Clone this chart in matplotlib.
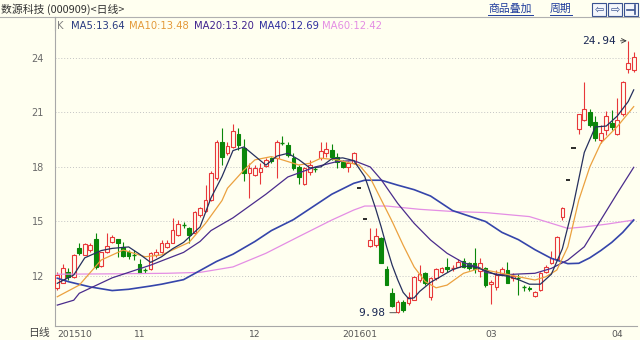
import matplotlib.pyplot as plt
from matplotlib.lines import Line2D
from matplotlib.patches import Rectangle

# daily candles, Oct 2015 - Apr 2016
opens = [11.32, 11.63, 12.24, 11.96, 13.52, 13.16, 13.43, 14.02, 12.55, 13.32,
         13.89, 14.02, 13.61, 13.32, 13.18, 12.66, 12.35, 12.37, 13.16, 13.34,
         13.61, 13.83, 14.26, 14.83, 14.62, 14.35, 15.36, 15.60, 16.18, 17.38,
         19.39, 18.75, 19.08, 19.82, 19.03, 17.65, 17.56, 17.74, 18.06, 18.48,
         18.48, 19.36, 19.21, 18.48, 17.98, 17.06, 17.74, 17.90, 18.48, 18.79,
         18.94, 18.57, 18.26, 18.02, 18.20, 16.83, 15.16, 13.65, 13.71, 14.07,
         12.37, 11.05, 10.00, 10.59, 10.50, 10.68, 11.78, 12.15, 10.86, 11.87,
         12.24, 12.51, 12.40, 12.51, 12.84, 12.70, 12.73, 12.29, 12.42, 11.55,
         11.41, 12.10, 12.35, 11.90, 11.90, 11.40, 11.35, 10.90, 11.23, 12.20,
         12.72, 12.95, 15.27, 17.30, 19.06, 20.10, 20.60, 21.05, 20.50, 19.49,
         20.04, 20.42, 19.80, 20.90, 23.38, 23.34]
highs = [12.24, 12.64, 12.42, 13.20, 13.80, 13.80, 13.83, 14.35, 13.34, 14.35,
         14.26, 14.05, 13.89, 13.43, 13.43, 12.92, 12.46, 13.34, 13.47, 13.98,
         13.98, 15.17, 15.08, 14.99, 14.72, 15.58, 15.82, 17.01, 17.78, 19.49,
         20.13, 19.39, 20.37, 20.13, 19.52, 18.20, 18.11, 18.20, 18.48, 18.57,
         19.49, 19.71, 19.39, 18.75, 18.11, 18.02, 18.39, 18.02, 19.39, 19.39,
         19.25, 18.75, 18.39, 18.33, 18.84, 16.83, 15.16, 14.62, 14.62, 14.17,
         12.55, 11.32, 10.68, 10.68, 11.14, 12.00, 12.61, 12.24, 11.93, 12.42,
         12.51, 12.97, 12.60, 12.92, 12.97, 12.79, 13.52, 12.97, 12.51, 11.80,
         12.35, 12.50, 12.79, 12.15, 12.10, 11.50, 11.45, 11.20, 12.20, 12.60,
         13.35, 14.20, 15.77, 17.30, 19.06, 20.92, 22.70, 21.20, 20.80, 20.30,
         21.10, 21.15, 21.80, 22.75, 24.94, 24.35]
lows = [11.23, 11.60, 11.78, 11.90, 13.16, 13.14, 13.34, 12.37, 12.51, 13.25,
        13.80, 13.06, 13.06, 12.92, 12.88, 12.15, 12.18, 12.33, 13.06, 13.28,
        13.52, 13.80, 14.20, 14.62, 13.80, 14.31, 15.27, 15.54, 16.14, 17.28,
        18.11, 18.66, 19.03, 18.94, 17.25, 16.28, 17.50, 17.06, 17.98, 18.20,
        17.38, 19.20, 18.57, 17.83, 17.06, 17.01, 17.56, 17.74, 18.39, 18.57,
        18.39, 17.93, 17.93, 17.74, 18.17, 16.83, 15.16, 13.60, 13.61, 12.70,
        11.50, 10.31, 9.98, 10.00, 10.40, 10.68, 11.69, 11.50, 10.68, 11.78,
        12.15, 12.24, 12.30, 12.48, 12.42, 12.33, 12.15, 11.93, 11.41, 10.45,
        11.25, 12.05, 11.60, 11.75, 10.95, 11.20, 11.15, 10.85, 11.20, 12.15,
        12.65, 12.92, 15.10, 17.30, 19.06, 19.80, 20.55, 20.20, 19.45, 19.30,
        19.75, 20.05, 19.75, 20.80, 23.16, 23.25]
closes = [12.06, 12.42, 11.96, 13.16, 13.25, 13.76, 13.71, 12.51, 13.32, 13.67,
          14.17, 13.80, 13.10, 13.10, 13.14, 12.18, 12.31, 13.28, 13.34, 13.83,
          13.83, 14.53, 14.84, 14.79, 14.26, 15.52, 15.72, 16.18, 17.65, 19.39,
          18.57, 19.16, 20.00, 19.21, 17.65, 17.93, 17.93, 17.93, 18.39, 18.35,
          19.39, 19.30, 18.66, 17.93, 17.47, 17.93, 18.11, 17.87, 18.90, 18.97,
          18.57, 18.29, 18.02, 18.24, 18.75, 16.83, 15.16, 13.98, 14.20, 12.73,
          11.50, 10.35, 10.59, 10.13, 10.86, 11.93, 12.11, 11.60, 11.87, 12.37,
          12.42, 12.37, 12.45, 12.79, 12.51, 12.42, 12.37, 12.73, 11.50, 11.65,
          12.05, 12.38, 11.63, 12.02, 11.85, 11.35, 11.28, 11.14, 12.15, 12.47,
          12.97, 14.15, 15.72, 17.30, 19.06, 20.90, 21.17, 20.31, 19.58, 19.89,
          20.83, 20.18, 20.60, 22.70, 23.74, 24.07]

# moving averages (candle index, value)
ma5_idx = [0, 3, 5, 8, 10, 13, 15, 17, 19, 21, 23, 26, 28, 30, 32, 34, 36, 38, 40, 42,
           44, 46, 48, 50, 52, 54, 56, 57, 58, 59, 60, 61, 62, 63, 64, 65, 66, 68, 70,
           72, 74, 76, 78, 80, 82, 84, 86, 88, 90, 92, 94, 96, 98, 100, 102, 104, 105]
ma5_val = [11.6, 12.06, 13.0, 13.4, 13.52, 13.6, 13.2, 12.75, 13.06, 13.5, 13.85, 14.7,
           16.3, 17.47, 18.9, 19.1, 18.6, 18.1, 18.6, 18.75, 18.4, 17.95, 18.0, 18.45,
           18.5, 18.35, 17.47, 16.6, 15.7, 14.7, 13.6, 12.6, 11.8, 11.1, 10.75, 10.8,
           11.15, 11.65, 12.0, 12.35, 12.55, 12.5, 12.3, 12.06, 12.0, 11.8, 11.55, 11.55,
           12.1, 13.5, 15.9, 18.8, 20.2, 20.25, 20.8, 21.6, 22.24]
ma10_idx = [0, 4, 8, 12, 16, 19, 24, 27, 30, 31, 34, 36, 39, 41, 44, 46, 48, 51, 55,
            57, 59, 61, 63, 65, 67, 69, 71, 74, 77, 78, 81, 84, 87, 89, 91, 93, 95,
            97, 99, 102, 105]
ma10_val = [10.86, 11.5, 12.88, 13.43, 13.06, 13.16, 13.85, 14.9, 16.15, 16.83, 17.83,
            18.39, 18.57, 18.39, 18.11, 18.2, 18.48, 18.39, 18.1, 17.4, 16.2, 15.0,
            13.7, 12.5, 11.7, 11.35, 11.5, 12.15, 12.42, 12.33, 12.15, 11.96, 11.78,
            11.96, 12.33, 13.61, 16.18, 18.0, 19.3, 20.22, 21.32]
ma20_idx = [0, 3, 4, 10, 17, 23, 26, 28, 32, 38, 42, 47, 51, 54, 57, 59, 62, 65, 68,
            71, 74, 77, 78, 81, 84, 87, 90, 93, 96, 99, 102, 105]
ma20_val = [10.4, 10.67, 11.05, 11.9, 12.6, 13.3, 13.9, 14.5, 15.2, 16.5, 17.45, 18.0,
            18.3, 18.35, 18.0, 17.3, 16.0, 14.9, 13.98, 13.25, 12.73, 12.45, 12.2,
            12.06, 12.11, 12.15, 12.42, 12.88, 13.61, 15.08, 16.55, 17.98]
ma40_idx = [0, 2, 6, 10, 13, 17, 19, 23, 26, 29, 32, 36, 39, 43, 46, 50, 54, 56, 59,
            62, 65, 68, 72, 75, 78, 81, 84, 87, 90, 93, 95, 97, 99, 101, 103, 105]
ma40_val = [11.88, 11.69, 11.4, 11.2, 11.27, 11.45, 11.55, 11.8, 12.3, 12.8, 13.2, 13.9,
            14.5, 15.1, 15.7, 16.5, 17.1, 17.27, 17.27, 17.0, 16.75, 16.4, 15.6, 15.3,
            15.0, 14.4, 14.0, 13.45, 12.97, 12.68, 12.7, 13.0, 13.4, 13.85, 14.4, 15.08]
ma60_idx = [0, 10, 20, 26, 32, 38, 44, 50, 54, 56, 60, 66, 72, 78, 86, 90, 93, 96, 100, 105]
ma60_val = [12.1, 12.12, 12.15, 12.2, 12.5, 13.25, 14.17, 15.08, 15.63, 15.85, 15.85,
            15.67, 15.55, 15.49, 15.27, 14.9, 14.62, 14.7, 14.85, 15.08]

month_pos = [0, 14, 35, 52, 78, 101]
month_labels = ['201510', '11', '12', '201601', '03', '04']
yticks = [12, 15, 18, 21, 24]

BG = '#fffff0'
RED = '#e8383a'
GREEN = '#0a870a'
C5, C10, C20, C40, C60 = '#26305e', '#eba13f', '#4a2c8c', '#3545aa', '#e48ee4'
CJK = ['Noto Sans CJK SC', 'DejaVu Sans']

fig = plt.figure(figsize=(6.4, 3.4), dpi=100, facecolor=BG)
ax = fig.add_axes([55/640, 14/340, 582/640, 309/340])
ax.set_facecolor(BG)
ax.set_xlim(-0.42, 105.6)
ax.set_ylim(9.25, 26.25)

for y in yticks:
    ax.axhline(y, color='#c4c4c4', lw=0.7, ls=(0, (1, 2)), zorder=0)

# candles
for i, (o, h, l, c) in enumerate(zip(opens, highs, lows, closes)):
    if h - l < 0.01:
        ax.hlines(c, i - 0.4, i + 0.4, color='#1a1a1a', lw=1.3, zorder=3)
        continue
    col = RED if c >= o else GREEN
    ax.vlines(i, l, h, color=col, lw=0.8, zorder=2)
    if abs(c - o) < 0.06:
        ax.hlines((o + c) / 2, i - 0.36, i + 0.36, color=col, lw=1.0, zorder=3)
    else:
        ax.bar(i, abs(c - o), bottom=min(o, c), width=0.66,
               facecolor=BG if c >= o else GREEN, edgecolor=col, lw=0.8, zorder=3)

ax.plot(ma60_idx, ma60_val, color=C60, lw=0.9, zorder=4)
ax.plot(ma40_idx, ma40_val, color=C40, lw=1.2, zorder=4)
ax.plot(ma20_idx, ma20_val, color=C20, lw=0.9, zorder=4)
ax.plot(ma10_idx, ma10_val, color=C10, lw=0.9, zorder=4)
ax.plot(ma5_idx, ma5_val, color=C5, lw=0.9, zorder=5)

# high / low marks
ax.annotate('24.94', xy=(104, max(highs)), xytext=(-12, 0), textcoords='offset pixels',
            ha='right', va='center', fontsize=8, family='DejaVu Sans Mono', color='#1c2a55',
            arrowprops=dict(arrowstyle='->', color='#333333', lw=0.6, shrinkA=1, shrinkB=1))
ax.annotate('9.98', xy=(62, min(lows)), xytext=(-12, 0), textcoords='offset pixels',
            ha='right', va='center', fontsize=8, family='DejaVu Sans Mono', color='#1c2a55',
            arrowprops=dict(arrowstyle='-', color='#333333', lw=0.6, shrinkA=1, shrinkB=1))

ax.set_yticks(yticks)
ax.set_yticklabels([str(v) for v in yticks])
ax.set_xticks(month_pos)
ax.set_xticklabels(month_labels, ha='left')
ax.tick_params(axis='y', length=0, pad=8, labelsize=7, labelcolor='#6a6a6a')
ax.tick_params(axis='x', length=0, pad=3, labelsize=6.6, labelcolor='#555555')
for s in ['top', 'right']:
    ax.spines[s].set_visible(False)
for s in ['left', 'bottom']:
    ax.spines[s].set_color('#a8a8a8')
    ax.spines[s].set_linewidth(0.8)

# header
fig.add_artist(Line2D([0, 1], [1 - 16.5/340] * 2, color='#b0b0b0', lw=0.8))
fig.add_artist(Line2D([55/640] * 2, [1 - 16.5/340, 1 - 30/340], color='#a8a8a8', lw=0.8))
fig.text(1/640, 1 - 9/340, '数源科技 (000909)<日线>', family=CJK, fontsize=7.8,
         color='#333333', va='center')
for txt, x0, x1 in [('商品叠加', 488, 533), ('周期', 550, 572)]:
    fig.text(x0/640, 1 - 8.5/340, txt, family=CJK, fontsize=7.8, color='#1f3c9c', va='center')
    fig.add_artist(Line2D([x0/640, x1/640], [1 - 15/340] * 2, color='#1f3c9c', lw=0.7))
for k, g in enumerate(['⇦', '⇨', '']):
    x0 = 592 + 16 * k
    fig.add_artist(Rectangle((x0/640, 1 - 16/340), 14/640, 13/340, transform=fig.transFigure,
                             facecolor='#f4f6fb', edgecolor='#3a5290', lw=0.8))
    if g:
        fig.text((x0 + 7)/640, 1 - 9.5/340, g, fontsize=8, color='#3a5290', ha='center', va='center')
    else:
        fig.add_artist(Line2D([(x0 + 3)/640, (x0 + 10)/640], [1 - 9.5/340] * 2, color='#3a5290', lw=1.2))
        fig.add_artist(Line2D([(x0 + 11)/640] * 2, [1 - 5/340, 1 - 14/340], color='#3a5290', lw=1.2))

legend = [('K', '#808080', 57), ('MA5:13.64', '#283a80', 71), ('MA10:13.48', '#e49a3a', 129),
          ('MA20:13.20', '#40238e', 194), ('MA40:12.69', '#2e2e9e', 259), ('MA60:12.42', '#e48ee4', 322)]
for txt, col, x0 in legend:
    fig.text(x0/640, 1 - 26/340, txt, fontsize=7.2, color=col, va='center')

fig.text(28/640, 1 - 333/340, '日线', family=CJK, fontsize=7.8, color='#444444', va='center')

fig.savefig('out.png', dpi=100, facecolor=BG)
